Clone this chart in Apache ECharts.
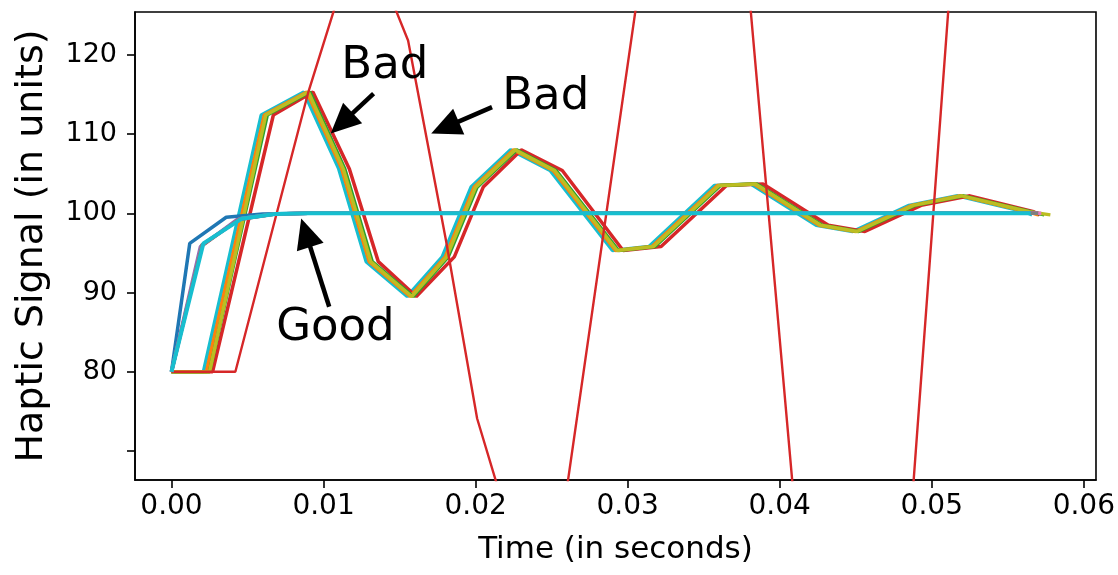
<!DOCTYPE html>
<html>
<head>
<meta charset="utf-8">
<script src="https://cdn.jsdelivr.net/npm/echarts@6/dist/echarts.min.js"></script>
<style>
html,body{margin:0;padding:0;background:#fff;}
#chart{width:1118px;height:575px;}
</style>
</head>
<body>
<div id="chart"></div>
<script>
// ---- tick labels ----
const xTicks = [0, 0.01, 0.02, 0.03, 0.04, 0.05, 0.06];
const yTicks = [70, 80, 90, 100, 110, 120];
const yLabels = [80, 90, 100, 110, 120];

// ---- "Bad" bundle (delayed, oscillating) ----
const bundleValues = [80, 80, 112.4, 115.3, 105.6, 93.9, 89.5, 94.5, 103.3, 108.0, 105.4, 95.3, 95.8, 103.5, 103.7, 98.5, 97.7, 101.0, 102.2, 100.2, 99.8];
const badTimesCyan   = [0, 0.0021, 0.0059, 0.0087, 0.0110, 0.0128, 0.0155, 0.0178, 0.0197, 0.0223, 0.0249, 0.0290, 0.0314, 0.0357, 0.0381, 0.0424, 0.0448, 0.0485, 0.0517, 0.0561, 0.0566];
const badTimesOrange = [0, 0.0023, 0.0061, 0.0089, 0.0112, 0.0130, 0.0157, 0.0180, 0.0199, 0.0225, 0.0251, 0.0292, 0.0316, 0.0359, 0.0383, 0.0426, 0.0450, 0.0487, 0.0519, 0.0563, 0.0570];
const badTimesGreen  = [0, 0.0025, 0.0063, 0.0091, 0.0114, 0.0132, 0.0159, 0.0182, 0.0201, 0.0227, 0.0253, 0.0294, 0.0318, 0.0361, 0.0385, 0.0428, 0.0452, 0.0489, 0.0521, 0.0565, 0.0574];
const badTimesOlive  = [0, 0.0025, 0.0062, 0.0090, 0.0113, 0.0131, 0.0158, 0.0181, 0.0200, 0.0226, 0.0252, 0.0293, 0.0317, 0.0360, 0.0384, 0.0427, 0.0451, 0.0488, 0.0520, 0.0564, 0.0578];
const badTimesRed    = [0, 0.0027, 0.0067, 0.0093, 0.0117, 0.0136, 0.0161, 0.0186, 0.0205, 0.0230, 0.0257, 0.0297, 0.0322, 0.0365, 0.0389, 0.0432, 0.0456, 0.0493, 0.0525, 0.0567, 0.0571];

// ---- big unstable red curve ----
const bigRedTimes  = [0, 0.0042, 0.0090, 0.0113, 0.0135, 0.01556, 0.01805, 0.0201, 0.0227, 0.0250, 0.0310, 0.0340, 0.0370, 0.0420, 0.0450, 0.0480, 0.0530, 0.0560];
const bigRedValues = [80, 80, 115.3, 129.4, 131.6, 121.8, 96.6, 74.1, 57.5, 51.9, 132.1, 160, 149.3, 40.7, 25, 45.3, 175.4, 190];

// ---- "Good" curves (settle at 100) ----
const goodTimesBlue   = [0, 0.0012, 0.0036, 0.0060, 0.0090, 0.0570];
const goodValuesBlue  = [80, 96.2, 99.5, 99.9, 100, 100];
const goodTimesPurple = [0, 0.0019, 0.0043, 0.0068, 0.0090, 0.0570];
const goodValuesPurple= [80, 95.8, 99.2, 99.9, 100, 100];
const goodTimesBrown  = [0, 0.0020, 0.0044, 0.0068, 0.0090, 0.0570];
const goodValuesBrown = [80, 95.9, 99.2, 99.9, 100, 100];
const goodTimesPink   = [0, 0.0020, 0.0045, 0.0068, 0.0090, 0.0572];
const goodValuesPink  = [80, 96.0, 99.3, 99.9, 100, 100];
const goodTimesGray   = [0, 0.0020, 0.0045, 0.0068, 0.0090, 0.0570];
const goodValuesGray  = [80, 96.0, 99.3, 99.9, 100, 100];
const goodTimesCyan   = [0, 0.0021, 0.0046, 0.0068, 0.0090, 0.0565];
const goodValuesCyan  = [80, 96.2, 99.3, 99.9, 100, 100];

// ---- annotations (data coordinates) ----
const annoTexts = ['Bad', 'Bad', 'Good'];
const annoTextAt = [[0.01403, 118.55], [0.02461, 114.64], [0.01078, 85.5]];
const arrowFrom = [[0.01329, 115.1], [0.02108, 113.4], [0.01037, 88.2]];
const arrowTo   = [[0.01047, 110.06], [0.01708, 110.06], [0.00853, 99.35]];

function zip(ts, vs) { return ts.map((t, i) => [t, vs[i]]); }

const FONT = 'DejaVu Sans';
const chart = echarts.init(document.getElementById('chart'));

function lineSeries(name, color, data, width) {
  return {
    name: name, type: 'line', data: data, showSymbol: false, symbol: 'none',
    clip: true, silent: true, animation: false,
    lineStyle: { color: color, width: width },
    itemStyle: { color: color }
  };
}

const series = [
  lineSeries('bad-cyan', '#17becf', zip(badTimesCyan, bundleValues), 3.5),
  lineSeries('bad-red', '#d62728', zip(badTimesRed, bundleValues), 3.5),
  lineSeries('bad-orange', '#ff7f0e', zip(badTimesOrange, bundleValues), 3.5),
  lineSeries('bad-green', '#2ca02c', zip(badTimesGreen, bundleValues), 3.5),
  lineSeries('bad-olive', '#bcbd22', zip(badTimesOlive, bundleValues), 3.5),
  lineSeries('big-red', '#d62728', zip(bigRedTimes, bigRedValues), 2.4),
  lineSeries('good-blue', '#1f77b4', zip(goodTimesBlue, goodValuesBlue), 3.5),
  lineSeries('good-purple', '#9467bd', zip(goodTimesPurple, goodValuesPurple), 3.5),
  lineSeries('good-brown', '#8c564b', zip(goodTimesBrown, goodValuesBrown), 3.5),
  lineSeries('good-pink', '#e377c2', zip(goodTimesPink, goodValuesPink), 3.5),
  lineSeries('good-gray', '#7f7f7f', zip(goodTimesGray, goodValuesGray), 3.5),
  lineSeries('good-cyan', '#17becf', zip(goodTimesCyan, goodValuesCyan), 4)
];

const option = {
  animation: false,
  backgroundColor: '#fff',
  grid: {
    left: 135, right: 10, top: 12, bottom: 95, containLabel: false,
    show: true, borderColor: '#000', borderWidth: 1.6, backgroundColor: 'transparent'
  },
  xAxis: {
    type: 'value', min: -0.0024, max: 0.0608,
    name: 'Time (in seconds)', nameLocation: 'middle', nameGap: 54,
    nameTextStyle: { fontFamily: FONT, fontSize: 31, color: '#000' },
    axisLine: { show: true, onZero: false, lineStyle: { color: '#000', width: 1.6 } },
    axisTick: { show: true, inside: false, length: 8, customValues: xTicks, lineStyle: { color: '#000', width: 1.6 } },
    axisLabel: { show: true, margin: 13, customValues: xTicks, fontFamily: FONT, fontSize: 28, color: '#000',
      formatter: v => v.toFixed(2) },
    splitLine: { show: false }
  },
  yAxis: {
    type: 'value', min: 66.34, max: 125.4,
    name: 'Haptic Signal (in units)', nameLocation: 'middle', nameGap: 84,
    nameTextStyle: { fontFamily: FONT, fontSize: 38, color: '#000' },
    axisLine: { show: true, onZero: false, lineStyle: { color: '#000', width: 1.6 } },
    axisTick: { show: true, inside: false, length: 8, customValues: yTicks, lineStyle: { color: '#000', width: 1.6 } },
    axisLabel: { show: true, margin: 18, customValues: yLabels, fontFamily: FONT, fontSize: 27, color: '#000' },
    splitLine: { show: false }
  },
  series: series
};
chart.setOption(option);

// text and arrow annotations positioned from data coordinates
const graphics = [];
annoTexts.forEach((txt, i) => {
  const p = chart.convertToPixel({ gridIndex: 0 }, annoTextAt[i]);
  graphics.push({
    type: 'text', x: p[0], y: p[1], z: 100,
    style: { text: txt, fontFamily: FONT, fontSize: 45, fill: '#000', align: 'center', verticalAlign: 'middle' }
  });
});
arrowFrom.forEach((f, i) => {
  const a = chart.convertToPixel({ gridIndex: 0 }, f);
  const b = chart.convertToPixel({ gridIndex: 0 }, arrowTo[i]);
  const dx = b[0] - a[0], dy = b[1] - a[1];
  const len = Math.hypot(dx, dy);
  const ux = dx / len, uy = dy / len;
  const nx = -uy, ny = ux;
  const L = 30, W = 14;
  const bx = b[0] - ux * L, by = b[1] - uy * L;
  graphics.push({
    type: 'line', z: 100,
    shape: { x1: a[0], y1: a[1], x2: bx + ux * 4, y2: by + uy * 4 },
    style: { stroke: '#000', lineWidth: 4.5 }
  });
  graphics.push({
    type: 'polygon', z: 100,
    shape: { points: [[b[0], b[1]], [bx + nx * W, by + ny * W], [bx - nx * W, by - ny * W]] },
    style: { fill: '#000' }
  });
});
chart.setOption({ graphic: graphics });
</script>
</body>
</html>
